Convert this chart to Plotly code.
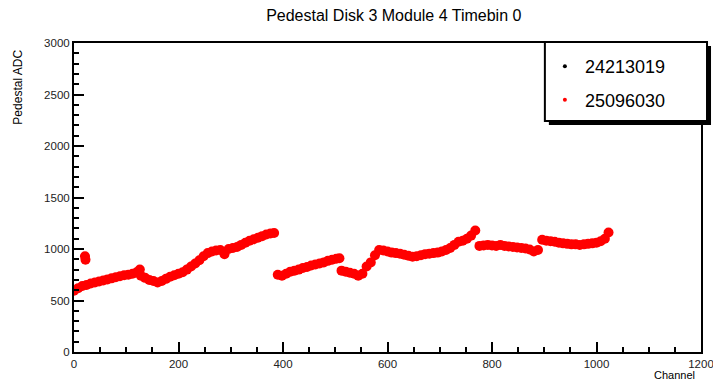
import plotly.graph_objects as go

# ---- data ----
series_names = ["24213019", "25096030"]

# run 25096030, segment 1 (channels 0-383)
seg1_ch = [0, 8, 16, 24, 32, 40, 48, 56, 64, 72, 80, 88, 96, 104, 112, 120, 126,
           128, 136, 144, 152, 160, 168, 176, 184, 192, 200, 208, 216, 224, 232, 240,
           248, 256, 264, 272, 280, 288, 296, 304, 312, 320, 328, 336, 344, 352, 360,
           368, 376, 383]
seg1_adc = [595, 620, 640, 650, 665, 675, 685, 695, 705, 715, 725, 735, 745, 750, 760, 775, 800,
            740, 720, 700, 690, 675, 690, 710, 730, 745, 760, 775, 800, 830, 860, 890,
            930, 960, 975, 985, 990, 950, 1000, 1010, 1020, 1040, 1060, 1080, 1095, 1110, 1125,
            1140, 1150, 1155]

# outliers near channel 22
out_ch = [21, 22]
out_adc = [930, 895]

# segment 2 (channels 390-508)
seg2_ch = [390, 398, 406, 414, 422, 430, 438, 446, 454, 462, 470, 478, 486, 494, 502, 508]
seg2_adc = [750, 740, 760, 780, 790, 800, 815, 825, 840, 850, 860, 870, 885, 895, 905, 910]

# segment 3 (channels 512-1023)
seg3_ch = [512, 520, 528, 536, 544, 552, 560, 568, 576, 584, 592, 600, 608, 616, 624, 632,
           640, 648, 656, 664, 672, 680, 688, 696, 704, 712, 720, 728, 736, 744, 752, 760,
           768, 776, 784, 792, 800, 808, 816, 824, 832, 840, 848, 856, 864, 872, 880, 888,
           896, 904, 912, 920, 928, 936, 944, 952, 960, 968, 976, 984, 992, 1000, 1008, 1016,
           1023]
seg3_adc = [790, 780, 770, 760, 740, 760, 830, 870, 940, 990, 985, 975, 965, 960, 955, 945,
            935, 925, 930, 940, 950, 955, 960, 965, 975, 990, 1010, 1040, 1070, 1080, 1100, 1130,
            1180, 1030, 1035, 1040, 1035, 1030, 1040, 1030, 1025, 1020, 1015, 1010, 1005, 995, 975, 990,
            1090, 1080, 1075, 1070, 1060, 1055, 1050, 1045, 1045, 1040, 1045, 1050, 1055, 1060, 1075, 1100,
            1160]

red_ch = seg1_ch + out_ch + seg2_ch + seg3_ch
red_adc = seg1_adc + out_adc + seg2_adc + seg3_adc

FONT = "Liberation Sans, Arial, Helvetica, sans-serif"

fig = go.Figure()

fig.add_trace(go.Scatter(
    x=red_ch, y=red_adc, mode="markers", showlegend=False,
    marker=dict(color="#ff0000", size=10, symbol="circle", line=dict(width=0)),
    hoverinfo="x+y",
))

# legend entries
fig.add_trace(go.Scatter(
    x=[None], y=[None], mode="markers", name=series_names[0], legendgroup="a",
    marker=dict(color="black", size=4),
))
fig.add_trace(go.Scatter(
    x=[None], y=[None], mode="markers", name=series_names[1], legendgroup="b",
    marker=dict(color="#ff0000", size=4),
))

axis_common = dict(
    showline=True, linecolor="black", linewidth=2, mirror=True,
    ticks="inside", tickcolor="black", tickwidth=2,
    showgrid=False, zeroline=False, automargin=False, ticklabeloverflow="allow",
    tickfont=dict(family=FONT, size=11.5, color="#222222"),
)

fig.update_xaxes(range=[0, 1200], dtick=200, tick0=0, ticklen=10,
                 minor=dict(dtick=50, ticks="inside", ticklen=5, tickcolor="black", tickwidth=2),
                 **axis_common)
fig.update_yaxes(range=[0, 3000], dtick=500, tick0=0, ticklen=10,
                 minor=dict(dtick=100, ticks="inside", ticklen=5, tickcolor="black", tickwidth=2),
                 **axis_common)

# legend box (ROOT-style with shadow)
lx0, lx1, ly0, ly1 = 0.751, 1.0096, 0.7476, 1.003
sx, sy = 4 / 627, 4 / 309
shapes = [
    dict(type="rect", xref="paper", yref="paper", x0=lx0 + sx, x1=lx1 + sx, y0=ly0 - sy, y1=ly1 - sy,
         fillcolor="black", line=dict(width=0), layer="above"),
    dict(type="rect", xref="paper", yref="paper", x0=lx0, x1=lx1, y0=ly0, y1=ly1,
         fillcolor="white", line=dict(color="black", width=2), layer="above"),
]

fig.update_layout(
    width=713, height=381,
    margin=dict(l=74, r=12, t=43, b=29),
    paper_bgcolor="white", plot_bgcolor="white",
    title=dict(text="Pedestal Disk 3 Module 4 Timebin 0", x=0.51, xref="paper",
               y=0.96, yref="container", xanchor="center", yanchor="middle",
               font=dict(family=FONT, size=16, color="black")),
    legend=dict(x=lx0, y=ly1 - 6 / 309, xanchor="left", yanchor="top",
                bgcolor="rgba(0,0,0,0)", borderwidth=0,
                font=dict(family=FONT, size=18, color="black"),
                tracegroupgap=7, itemwidth=30,
                traceorder="grouped"),
    shapes=shapes,
    annotations=[
        dict(text="Pedestal ADC", textangle=-90, x=-0.089, y=0.984, xref="paper", yref="paper",
             xanchor="center", yanchor="top", showarrow=False,
             font=dict(family=FONT, size=12, color="black")),
        dict(text="Channel", x=0.9936, y=-0.075, xref="paper", yref="paper",
             xanchor="right", yanchor="middle", showarrow=False,
             font=dict(family=FONT, size=11, color="black")),
    ],
)

fig.write_html("out.html", config={"displayModeBar": False},
               post_script="document.body.style.margin='0px';")
